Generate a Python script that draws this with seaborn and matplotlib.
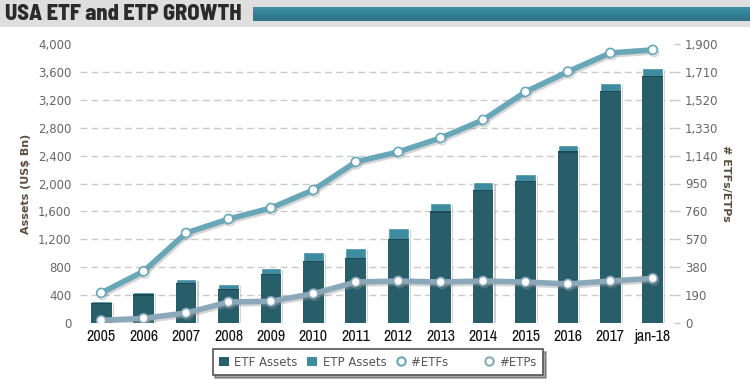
import matplotlib
matplotlib.use("Agg")
import matplotlib.pyplot as plt
import matplotlib.patheffects as pe
from matplotlib.patches import Rectangle, Patch
from matplotlib.lines import Line2D
import numpy as np
import pandas as pd
import seaborn as sns

years = ["2005", "2006", "2007", "2008", "2009", "2010", "2011", "2012",
         "2013", "2014", "2015", "2016", "2017", "jan-18"]
etf_assets = [290, 410, 580, 490, 700, 890, 930, 1200, 1600, 1910, 2040, 2460, 3330, 3540]
etp_assets = [30, 30, 45, 65, 95, 130, 140, 160, 120, 110, 100, 95, 110, 110]
num_etfs = [205, 352, 613, 708, 783, 906, 1097, 1165, 1260, 1383, 1574, 1712, 1839, 1860]
num_etps = [18, 32, 68, 143, 148, 200, 279, 286, 279, 286, 279, 266, 286, 304]

left_ticks = list(range(0, 4001, 400))
right_ticks = list(range(0, 1901, 190))

df = pd.DataFrame({"year": years, "etf": etf_assets, "etp": etp_assets,
                   "n_etf": num_etfs, "n_etp": num_etps})
df["total"] = df["etf"] + df["etp"]

sns.set_style("white")
plt.rcParams["font.family"] = ["DejaVu Sans"]

C_ETF = "#275e6a"
C_ETP = "#3f8ca1"
C_LETF = "#68a7b8"
C_LETP = "#8aa8ba"

fig = plt.figure(figsize=(7.5, 3.84), dpi=100)
fig.patch.set_facecolor("white")

# header band
band = fig.add_axes([0, 1 - 27 / 384, 1, 27 / 384], zorder=-5)
band.set_facecolor("#dedede")
band.set_xticks([]); band.set_yticks([])
for s in band.spines.values():
    s.set_visible(False)
grad = np.linspace(0, 1, 50).reshape(-1, 1)
hax = fig.add_axes([253 / 750, 1 - 21 / 384, 497 / 750, 14 / 384], zorder=-4)
hax.imshow(grad, aspect="auto", cmap=matplotlib.colors.LinearSegmentedColormap.from_list(
    "g", ["#3d91a7", "#2e7184"]), extent=[0, 1, 0, 1])
hax.set_axis_off()
fig.text(5 / 750, 1 - 14 / 384, "USA ETF and ETP GROWTH", fontsize=16, fontweight=800,
         color="#2b2b2b", va="center", ha="left",
         family=["Barlow Semi Condensed", "DejaVu Sans"])

ax = fig.add_axes([80 / 750, 61 / 384, 594 / 750, 279 / 384])
ax.set_facecolor("white")

shadow = [pe.SimplePatchShadow(offset=(1.5, -1.5), shadow_rgbFace="#999999", alpha=0.5), pe.Normal()]

sns.barplot(data=df, x="year", y="total", color=C_ETP, saturation=1, width=0.49, ax=ax, zorder=3)
n_tot = len(ax.patches)
for p in ax.patches:
    p.set_path_effects(shadow)
sns.barplot(data=df, x="year", y="etf", color=C_ETF, saturation=1, width=0.49, ax=ax, zorder=3)
for p in ax.patches[n_tot:]:
    p.set_edgecolor("none")
    x0, w, h = p.get_x(), p.get_width(), p.get_height()
    ax.add_patch(Rectangle((x0, h - 16), w, 16, facecolor="#1d4a54", edgecolor="none", zorder=3.5))

ax.set_xlim(-0.5, len(years) - 0.5)
ax.set_ylim(0, 4000)
ax.set_yticks(left_ticks)
ax.set_yticklabels([f"{v:,}" for v in left_ticks], color="#666666", fontsize=8.5)
for y in left_ticks[1:-1]:
    ax.axhline(y, color="#c9c9c9", lw=1, ls=(0, (5, 3)), zorder=1)
ax.tick_params(axis="y", length=0, pad=6)
ax.tick_params(axis="x", length=0, pad=4)
for lab in ax.get_xticklabels():
    lab.set_family(["Archivo Narrow", "DejaVu Sans"])
    lab.set_fontsize(11.5)
    lab.set_color("#111111")
ax.set_xlabel("")
ax.set_ylabel("Assets (US$ Bn)", fontsize=8, fontweight="bold", color="#5a4d3e", labelpad=5)
for s in ax.spines.values():
    s.set_visible(False)

ax2 = ax.twinx()
ax2.set_ylim(0, 1900)
lshadow = [pe.SimpleLineShadow(offset=(1, -1.5), shadow_color="#999999", alpha=0.4), pe.Normal()]
xpos = np.arange(len(years))
sns.lineplot(x=xpos, y=df["n_etf"], ax=ax2, color=C_LETF, lw=4, marker="o", markersize=6.5,
             markerfacecolor="white", markeredgecolor=C_LETF, markeredgewidth=1.2,
             zorder=5, path_effects=lshadow)
sns.lineplot(x=xpos, y=df["n_etp"], ax=ax2, color=C_LETP, lw=4, marker="o", markersize=6.5,
             markerfacecolor="white", markeredgecolor=C_LETP, markeredgewidth=1.2,
             zorder=5, path_effects=lshadow)
ax2.set_xlim(-0.5, len(years) - 0.5)
ax2.set_yticks(right_ticks)
ax2.set_yticklabels([f"{v:,}" for v in right_ticks], color="#666666", fontsize=8.5)
ax2.tick_params(axis="y", length=4, width=1, color="#c9c9c9", pad=4)
ax2.set_ylabel("# ETFs/ETPs", fontsize=8, fontweight="bold", color="#5a4d3e",
               rotation=270, labelpad=9)
for s in ax2.spines.values():
    s.set_visible(False)

handles = [
    Patch(facecolor=C_ETF, edgecolor="none"),
    Patch(facecolor=C_ETP, edgecolor="none"),
    Line2D([], [], ls="none", marker="o", markersize=6, markerfacecolor="white",
           markeredgecolor=C_LETF, markeredgewidth=1.5),
    Line2D([], [], ls="none", marker="o", markersize=6, markerfacecolor="white",
           markeredgecolor=C_LETP, markeredgewidth=1.5),
]
labels = ["ETF Assets", "ETP Assets", "#ETFs       ", "#ETPs"]
leg = fig.legend(handles, labels, loc="center", bbox_to_anchor=(378 / 750, 1 - 362 / 384),
                 ncol=4, frameon=True, fontsize=8.5, handlelength=0.8, handleheight=0.8,
                 handletextpad=0.5, columnspacing=0.8, borderpad=0.55, fancybox=False,
                 shadow=True, labelcolor="#555555")
leg.get_frame().set_edgecolor("#555555")
leg.get_frame().set_linewidth(1.2)

fig.savefig("out.png", dpi=100)
